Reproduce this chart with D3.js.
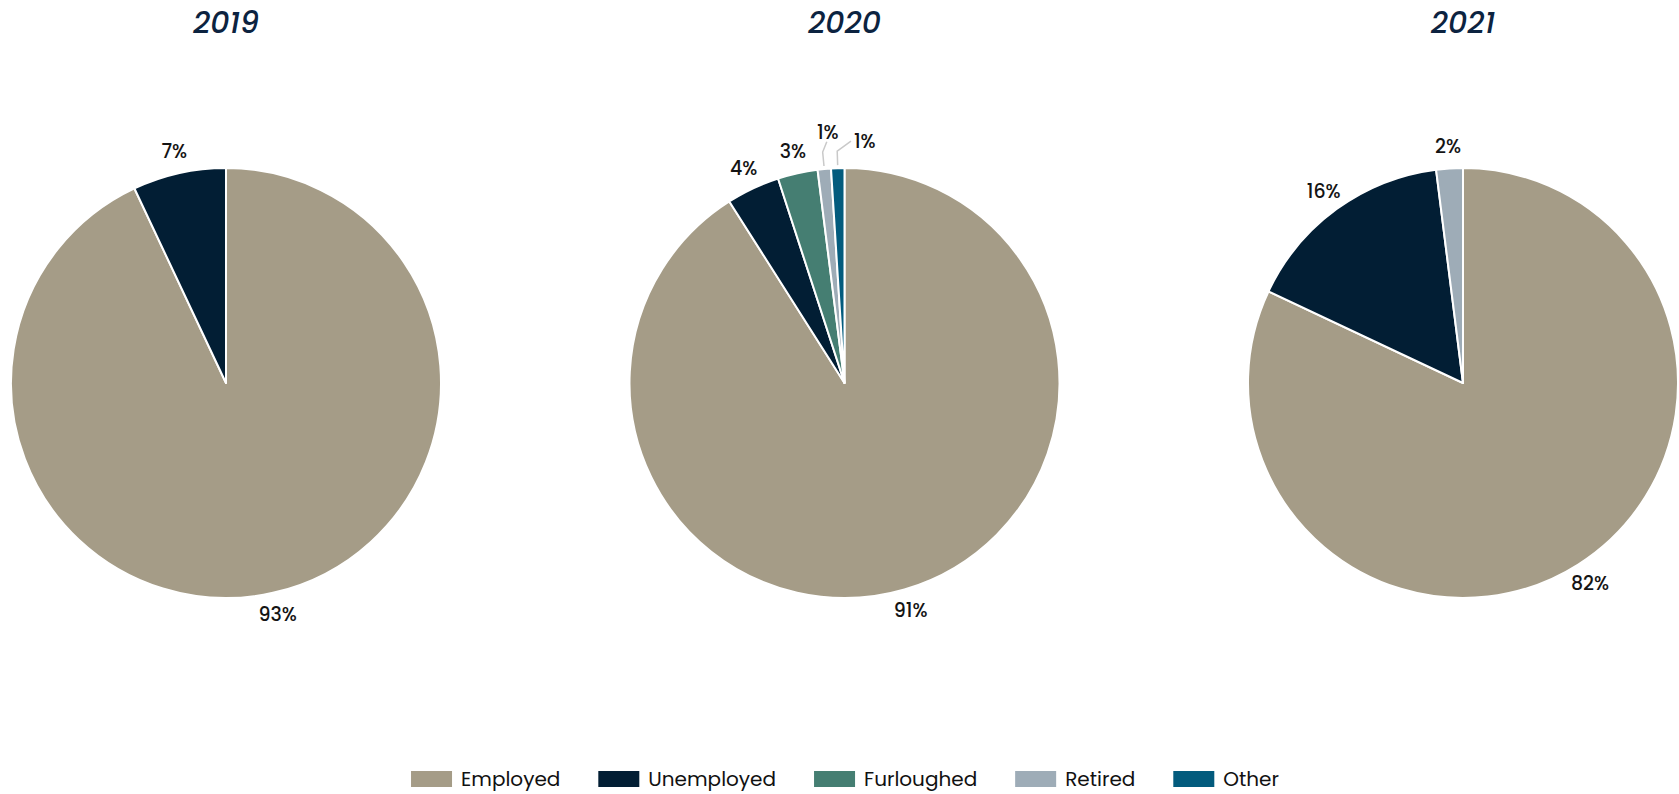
<!DOCTYPE html>
<html>
<head>
<meta charset="utf-8">
<script src="https://cdn.jsdelivr.net/npm/d3@7"></script>
<style>
  body { margin: 0; background: #ffffff; }
  svg { display: block; }
</style>
</head>
<body>
<svg id="chart" width="1679" height="794"></svg>
<script>
// Employment status by year (percent of respondents)
const categories = ["Employed", "Unemployed", "Furloughed", "Retired", "Other"];
const years = ["2019", "2020", "2021"];
const values2019 = [93, 7, 0, 0, 0];
const values2020 = [91, 4, 3, 1, 1];
const values2021 = [82, 16, 0, 2, 0];
const colors = ["#a59c87", "#021e34", "#457e72", "#9eacb7", "#035b7d"];

const seriesByYear = [values2019, values2020, values2021];

const svg = d3.select("#chart");
const FONT = "Poppins, Inter, 'Noto Sans', sans-serif";

const color = d3.scaleOrdinal().domain(categories).range(colors);
const cx = d3.scalePoint().domain(years).range([226, 1463]);
const cy = 383;
const radius = 215;
const labelRadius = 237;

const pie = d3.pie().sort(null).value(d => d.value);
const arc = d3.arc().innerRadius(0).outerRadius(radius);
const labelArc = d3.arc().innerRadius(labelRadius).outerRadius(labelRadius);
const pointAt = (angle, r) => [Math.sin(angle) * r, -Math.cos(angle) * r];

years.forEach((year, yi) => {
  const rows = categories
    .map((c, i) => ({ category: c, value: seriesByYear[yi][i] }))
    .filter(d => d.value > 0);
  const total = d3.sum(rows, d => d.value);
  const arcs = pie(rows);

  const g = svg.append("g").attr("transform", `translate(${cx(year)},${cy})`);

  // year heading
  svg.append("text")
    .attr("x", cx(year))
    .attr("y", 33)
    .attr("text-anchor", "middle")
    .attr("font-family", FONT)
    .attr("font-size", 30)
    .attr("font-style", "italic")
    .attr("font-weight", 500)
    .attr("fill", "#0c2340")
    .text(year);

  // slices
  g.selectAll("path.slice")
    .data(arcs)
    .join("path")
    .attr("class", "slice")
    .attr("d", arc)
    .attr("fill", d => color(d.data.category))
    .attr("stroke", "#ffffff")
    .attr("stroke-width", 2)
    .attr("stroke-linejoin", "round");

  // value labels; very thin slices get a leader line fanned outwards
  const tiny = arcs.filter(d => d.data.value / total < 0.015);
  arcs.forEach(d => {
    const label = `${d.data.value}%`;
    const mid = (d.startAngle + d.endAngle) / 2;
    const text = g.append("text")
      .attr("font-family", FONT)
      .attr("font-size", 19)
      .attr("font-weight", 500)
      .attr("fill", "#141414")
      .attr("dominant-baseline", "central")
      .text(label);

    if (tiny.includes(d)) {
      const rank = tiny.length - 1 - tiny.indexOf(d); // 0 = closest to the top
      const a = pointAt(mid, radius + 3);
      const b = pointAt(mid, radius + 17);
      const fan = (rank === 0 ? 54 : 22) * Math.PI / 180;
      const leg = rank === 0 ? 17 : 11;
      const c = [b[0] + Math.sin(fan) * leg, b[1] - Math.cos(fan) * leg];
      g.append("polyline")
        .attr("points", [a, b, c].map(p => p.join(",")).join(" "))
        .attr("fill", "none")
        .attr("stroke", "#c9c9c9")
        .attr("stroke-width", 1.5);
      if (rank === 0) {
        text.attr("x", c[0] + 3).attr("y", c[1]).attr("text-anchor", "start");
      } else {
        text.attr("x", c[0] + 1).attr("y", c[1] - 9).attr("text-anchor", "middle");
      }
    } else {
      const [lx, ly] = labelArc.centroid(d);
      text.attr("x", lx).attr("y", ly).attr("text-anchor", "middle");
    }
  });
});

// legend, centred under the pies
const legend = svg.append("g");
const swatchW = 41, swatchH = 16, textGap = 9, itemGap = 38;
let x = 0;
categories.forEach(c => {
  const item = legend.append("g").attr("transform", `translate(${x},0)`);
  item.append("rect")
    .attr("x", 0).attr("y", -swatchH / 2)
    .attr("width", swatchW).attr("height", swatchH)
    .attr("fill", color(c));
  const t = item.append("text")
    .attr("x", swatchW + textGap)
    .attr("y", 0)
    .attr("dominant-baseline", "central")
    .attr("font-family", FONT)
    .attr("font-size", 20)
    .attr("fill", "#111111")
    .text(c);
  x += swatchW + textGap + t.node().getComputedTextLength() + itemGap;
});
const legendWidth = x - itemGap;
legend.attr("transform", `translate(${845 - legendWidth / 2},779)`);
</script>
</body>
</html>
